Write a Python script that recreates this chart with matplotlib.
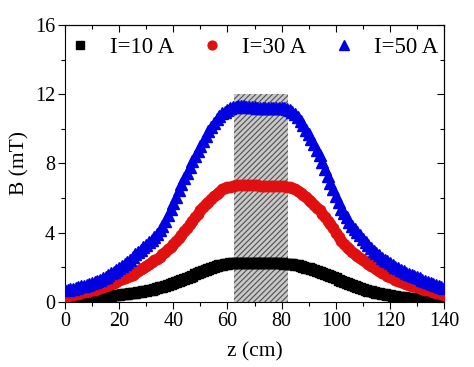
import matplotlib
matplotlib.use("Agg")
import matplotlib.pyplot as plt
from matplotlib.patches import Rectangle
from matplotlib.ticker import MultipleLocator

plt.rcParams['font.family'] = ['Liberation Serif', 'DejaVu Serif']
plt.rcParams['hatch.linewidth'] = 0.8

z = list(range(0, 141))

b10 = [0.10, 0.11, 0.12, 0.13, 0.14, 0.15, 0.16, 0.17, 0.19, 0.20,
       0.22, 0.24, 0.26, 0.28, 0.30, 0.32, 0.34, 0.36, 0.38, 0.40,
       0.42, 0.44, 0.46, 0.48, 0.50, 0.52, 0.55, 0.57, 0.60, 0.63,
       0.66, 0.69, 0.72, 0.76, 0.80, 0.84, 0.88, 0.93, 0.98, 1.03,
       1.08, 1.14, 1.20, 1.26, 1.32, 1.39, 1.46, 1.53, 1.60, 1.67,
       1.74, 1.81, 1.87, 1.93, 1.98, 2.03, 2.08, 2.12, 2.16, 2.19,
       2.21, 2.23, 2.24, 2.25, 2.26, 2.26, 2.26, 2.26, 2.25, 2.25,
       2.24, 2.24, 2.24, 2.24, 2.23, 2.23, 2.23, 2.23, 2.23, 2.23,
       2.23, 2.22, 2.21, 2.20, 2.18, 2.15, 2.12, 2.08, 2.04, 1.99,
       1.94, 1.89, 1.84, 1.78, 1.72, 1.66, 1.60, 1.54, 1.48, 1.42,
       1.36, 1.29, 1.22, 1.15, 1.08, 1.02, 0.96, 0.90, 0.85, 0.80,
       0.75, 0.70, 0.66, 0.62, 0.58, 0.54, 0.50, 0.47, 0.44, 0.41,
       0.38, 0.35, 0.33, 0.31, 0.29, 0.27, 0.25, 0.23, 0.22, 0.20,
       0.19, 0.18, 0.17, 0.16, 0.15, 0.14, 0.13, 0.12, 0.11, 0.11,
       0.10]

b30 = [0.35, 0.37, 0.40, 0.42, 0.45, 0.48, 0.52, 0.56, 0.60, 0.64,
       0.68, 0.72, 0.77, 0.82, 0.88, 0.94, 1.00, 1.06, 1.12, 1.18,
       1.25, 1.31, 1.38, 1.44, 1.50, 1.59, 1.68, 1.78, 1.88, 1.98,
       2.08, 2.19, 2.30, 2.40, 2.50, 2.62, 2.75, 2.90, 3.05, 3.20,
       3.35, 3.52, 3.70, 3.90, 4.10, 4.30, 4.50, 4.70, 4.90, 5.10,
       5.30, 5.48, 5.65, 5.80, 5.95, 6.10, 6.25, 6.38, 6.50, 6.56,
       6.62, 6.67, 6.72, 6.75, 6.77, 6.78, 6.78, 6.77, 6.76, 6.75,
       6.74, 6.73, 6.72, 6.71, 6.70, 6.70, 6.70, 6.70, 6.70, 6.70,
       6.70, 6.68, 6.65, 6.62, 6.58, 6.50, 6.42, 6.30, 6.18, 6.04,
       5.90, 5.75, 5.60, 5.45, 5.30, 5.10, 4.90, 4.70, 4.50, 4.25,
       4.00, 3.78, 3.55, 3.38, 3.20, 3.05, 2.90, 2.78, 2.65, 2.52,
       2.40, 2.30, 2.20, 2.10, 2.00, 1.90, 1.80, 1.70, 1.60, 1.52,
       1.45, 1.37, 1.30, 1.23, 1.17, 1.11, 1.05, 1.00, 0.95, 0.90,
       0.85, 0.80, 0.76, 0.71, 0.67, 0.62, 0.58, 0.54, 0.50, 0.46,
       0.42]

b50 = [0.70, 0.72, 0.75, 0.78, 0.82, 0.86, 0.90, 0.94, 0.98, 1.03,
       1.08, 1.14, 1.20, 1.29, 1.38, 1.46, 1.55, 1.65, 1.75, 1.85,
       1.95, 2.07, 2.20, 2.32, 2.45, 2.60, 2.75, 2.88, 3.00, 3.15,
       3.30, 3.45, 3.60, 3.77, 3.95, 4.17, 4.40, 4.70, 5.00, 5.35,
       5.70, 6.08, 6.45, 6.80, 7.15, 7.48, 7.80, 8.12, 8.45, 8.72,
       9.00, 9.30, 9.60, 9.85, 10.10, 10.33, 10.55, 10.73, 10.90, 11.00,
       11.10, 11.18, 11.25, 11.28, 11.30, 11.30, 11.30, 11.29, 11.28, 11.26,
       11.25, 11.23, 11.22, 11.21, 11.20, 11.20, 11.20, 11.21, 11.22, 11.21,
       11.20, 11.18, 11.15, 11.08, 11.00, 10.85, 10.70, 10.45, 10.20, 9.95,
       9.70, 9.40, 9.10, 8.80, 8.50, 8.10, 7.70, 7.30, 6.90, 6.50,
       6.10, 5.75, 5.40, 5.15, 4.90, 4.65, 4.40, 4.22, 4.05, 3.85,
       3.65, 3.47, 3.30, 3.12, 2.95, 2.82, 2.70, 2.57, 2.45, 2.35,
       2.25, 2.15, 2.05, 1.95, 1.85, 1.77, 1.70, 1.62, 1.55, 1.48,
       1.42, 1.36, 1.30, 1.24, 1.18, 1.11, 1.05, 0.98, 0.92, 0.86,
       0.80]

labels = ['I=10 A', 'I=30 A', 'I=50 A']
region_z = (62.5, 82.5)
region_top = 12

fig = plt.figure(figsize=(4.74, 3.67), dpi=100)
ax = fig.add_axes([0.137, 0.177, 0.800, 0.755])

ax.add_patch(Rectangle((region_z[0], 0), region_z[1] - region_z[0], region_top,
                       facecolor='#c8c8c8', edgecolor='#505050', linewidth=0,
                       hatch='//////', zorder=1))

ax.plot(z, b10, ls='none', marker='s', ms=6.5, color='black', mec='black', label=labels[0], zorder=3)
ax.plot(z, b30, ls='none', marker='o', ms=7.5, color='#e01010', mec='#e01010', label=labels[1], zorder=3)
ax.plot(z, b50, ls='none', marker='^', ms=8.5, color='#0000e0', mec='#0000e0', label=labels[2], zorder=3)

ax.set_xlim(0, 140)
ax.set_ylim(0, 16)
ax.xaxis.set_major_locator(MultipleLocator(20))
ax.xaxis.set_minor_locator(MultipleLocator(10))
ax.yaxis.set_major_locator(MultipleLocator(4))
ax.yaxis.set_minor_locator(MultipleLocator(2))
ax.tick_params(which='major', direction='out', length=5, width=0.8, labelsize=14.5, pad=2)
ax.tick_params(which='minor', direction='out', length=3, width=0.8)

for side, axis in (('top', 'x'), ('right', 'y')):
    if axis == 'x':
        sec = ax.secondary_xaxis(side)
        sec.xaxis.set_major_locator(MultipleLocator(20))
        sec.xaxis.set_minor_locator(MultipleLocator(10))
    else:
        sec = ax.secondary_yaxis(side)
        sec.yaxis.set_major_locator(MultipleLocator(4))
        sec.yaxis.set_minor_locator(MultipleLocator(2))
    sec.tick_params(which='major', direction='in', length=5, width=0.8, labelleft=False,
                    labelright=False, labeltop=False, labelbottom=False)
    sec.tick_params(which='minor', direction='in', length=3, width=0.8)

ax.set_xlabel('z (cm)', fontsize=15.5, labelpad=8)
ax.set_ylabel('B (mT)', fontsize=15.5, labelpad=4)

ax.legend(loc='upper center', ncol=3, frameon=False, fontsize=16.5,
          bbox_to_anchor=(0.5, 1.03), handlelength=0.8, handletextpad=0.9,
          columnspacing=1.25, markerscale=0.85)

fig.savefig('out.png', dpi=100)
